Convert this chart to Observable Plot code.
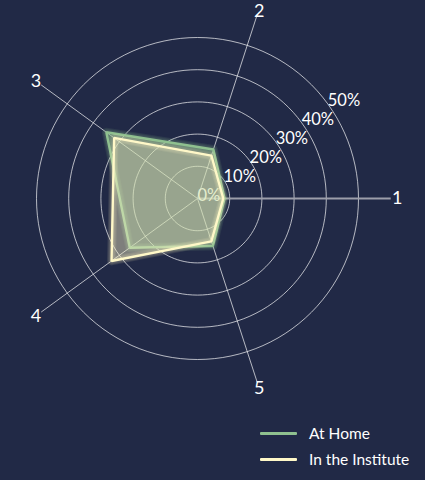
<!DOCTYPE html>
<html>
<head>
<meta charset="utf-8">
<script src="https://cdn.jsdelivr.net/npm/d3@7"></script>
<script src="https://cdn.jsdelivr.net/npm/@observablehq/plot@0.6"></script>
<style>
  body { margin: 0; background: #212946; font-family: Lato, "Open Sans", sans-serif; }
  #chart { position: relative; width: 425px; height: 480px; }
  .legend { position: absolute; left: 260px; top: 420px; color: #fff; font-size: 15.5px; }
  .legend div { display: flex; align-items: center; height: 26px; }
  .legend span.sw { display: inline-block; width: 37px; height: 3px; margin-right: 12px; border-radius: 1px; }
</style>
</head>
<body>
<div id="chart"></div>
<script>
const axes = ["1", "2", "3", "4", "5"];
const atHome = [8.4, 16, 35, 26, 15.5];
const inInstitute = [8, 14, 32, 33, 14];
const rings = [0, 10, 20, 30, 40, 50];
const ringLabels = ["0%", "10%", "20%", "30%", "40%", "50%"];
const seriesNames = ["At Home", "In the Institute"];
const colors = ["#8fc08f", "#fff8c8"];

const axisMax = 60;
const labelR = 62;
const ang = i => i * 2 * Math.PI / axes.length;
const pt = (r, a) => ({x: r * Math.cos(a), y: r * Math.sin(a)});

const k = 3.22, cx = 197, cy = 198, W = 425, H = 410;

const circles = rings.slice(1).flatMap(r =>
  d3.range(0, 121).map(j => ({ring: r, ...pt(r, j / 120 * 2 * Math.PI)})));
const spokes = axes.map((name, i) => ({name, i, ...pt(axisMax, ang(i)), lx: pt(labelR, ang(i)).x, ly: pt(labelR, ang(i)).y}));
const pctLabels = rings.map((r, i) => ({label: ringLabels[i], ...pt(r, Math.PI / 5)}));
const poly = vals => vals.map((v, i) => pt(v, ang(i)));
const series = [poly(atHome), poly(inInstitute)];

const marks = [
  Plot.line(circles, {x: "x", y: "y", z: "ring", stroke: "#ffffff", strokeOpacity: 0.75, strokeWidth: 0.9}),
  Plot.link(spokes.filter(d => d.i > 0), {x1: 0, y1: 0, x2: "x", y2: "y", stroke: "#ffffff", strokeOpacity: 0.75, strokeWidth: 0.9}),
  Plot.link(spokes.filter(d => d.i === 0), {x1: 0, y1: 0, x2: "x", y2: "y", stroke: "#9c9eaa", strokeWidth: 2.2}),
  Plot.text(spokes.filter(d => d.i !== 1), {x: "lx", y: "ly", text: "name", fill: "#ffffff", fontSize: 18}),
  Plot.text(spokes.filter(d => d.i === 1), {x: "lx", y: "ly", text: "name", fill: "#ffffff", fontSize: 18, dy: 3}),
  Plot.text(pctLabels, {x: "x", y: "y", text: "label", fill: "#ffffff", fontSize: 16.5, textAnchor: "start", lineAnchor: "bottom", dy: 2})
];

series.forEach((pts, s) => {
  marks.push(Plot.line(pts, {x: "x", y: "y", curve: "linear-closed", fill: colors[s], fillOpacity: 0.42, stroke: "none"}));
  [9, 7, 5].forEach(w => marks.push(
    Plot.line(pts, {x: "x", y: "y", curve: "linear-closed", stroke: colors[s], strokeWidth: w, strokeOpacity: 0.1, strokeLinejoin: "round"})));
  marks.push(Plot.line(pts, {x: "x", y: "y", curve: "linear-closed", stroke: colors[s], strokeWidth: 2.4, strokeLinejoin: "miter"}));
});

const chart = Plot.plot({
  width: W,
  height: H,
  margin: 0,
  style: {background: "transparent", fontFamily: "Lato, 'Open Sans', sans-serif", overflow: "visible"},
  x: {domain: [-cx / k, (W - cx) / k], axis: null},
  y: {domain: [-(H - cy) / k, cy / k], axis: null},
  marks
});

const root = document.getElementById("chart");
root.appendChild(chart);

const legend = document.createElement("div");
legend.className = "legend";
legend.innerHTML = seriesNames.map((n, i) =>
  `<div><span class="sw" style="background:${colors[i]}"></span>${n}</div>`).join("");
root.appendChild(legend);
</script>
</body>
</html>
